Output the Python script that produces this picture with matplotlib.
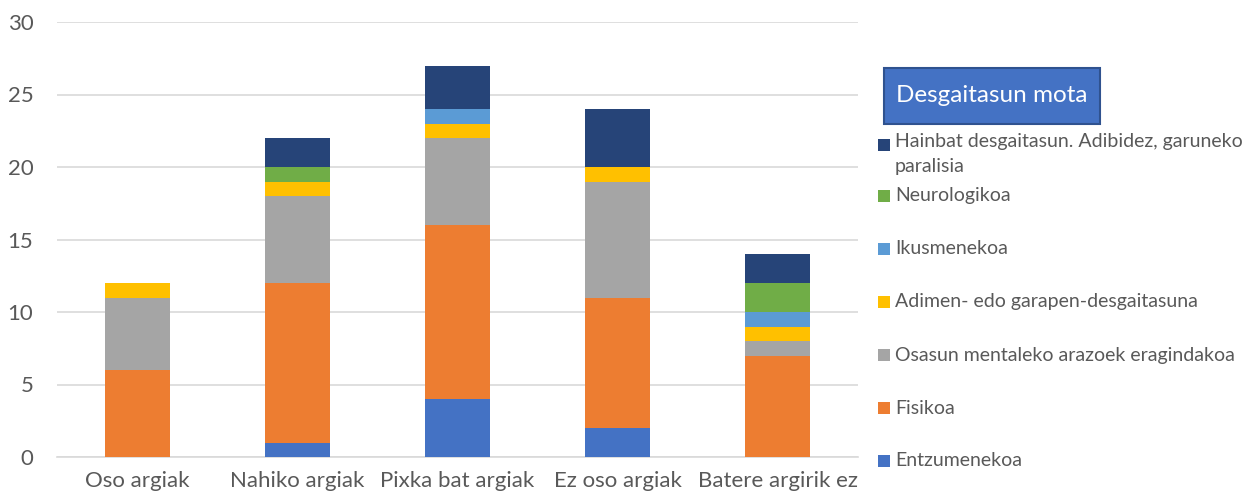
import matplotlib
matplotlib.use("Agg")
import matplotlib.pyplot as plt
from matplotlib.patches import Rectangle
import numpy as np

categories = ["Oso argiak", "Nahiko argiak", "Pixka bat argiak", "Ez oso argiak", "Batere argirik ez"]
series_names = ["Entzumenekoa", "Fisikoa", "Osasun mentaleko arazoek eragindakoa",
                "Adimen- edo garapen-desgaitasuna", "Ikusmenekoa", "Neurologikoa",
                "Hainbat desgaitasun. Adibidez, garuneko\nparalisia"]
entzumenekoa = [0, 1, 4, 2, 0]
fisikoa = [6, 11, 12, 9, 7]
osasun = [5, 6, 6, 8, 1]
adimen = [1, 1, 1, 1, 1]
ikusmenekoa = [0, 0, 1, 0, 1]
neurologikoa = [0, 1, 0, 0, 2]
hainbat = [0, 2, 3, 4, 2]
legend_title = "Desgaitasun mota"
yticks = [0, 5, 10, 15, 20, 25, 30]

colors = ["#4472C4", "#ED7D31", "#A5A5A5", "#FFC000", "#5B9BD5", "#70AD47", "#264478"]
series = [entzumenekoa, fisikoa, osasun, adimen, ikusmenekoa, neurologikoa, hainbat]

plt.rcParams['font.family'] = ['Lato', 'DejaVu Sans']
fig = plt.figure(figsize=(12.5, 5), dpi=100)
ax = fig.add_axes([0.0456, 0.086, 0.6408, 0.87])

x = np.arange(len(categories))
bottom = np.zeros(len(categories))
for vals, c in zip(series, colors):
    ax.bar(x, vals, 0.405, bottom=bottom, color=c, zorder=3)
    bottom += np.array(vals)

ax.set_xlim(-0.5, len(categories) - 0.5)
ax.set_ylim(0, 30)
ax.set_yticks(yticks)
ax.yaxis.grid(True, color="#d9d9d9", linewidth=1.2, zorder=0)
ax.set_xticks(x)
ax.set_xticklabels(categories)
for s in ["top", "right", "left"]:
    ax.spines[s].set_visible(False)
ax.spines["bottom"].set_color("#d9d9d9")
ax.spines["bottom"].set_linewidth(1.2)
ax.tick_params(axis="both", length=0, labelsize=16, colors="#595959")
ax.tick_params(axis="y", pad=17)
ax.tick_params(axis="x", pad=10)

# Legend title box
W, H = 1250, 500
def fx(px): return px / W
def fy(py): return 1 - py / H
box = Rectangle((fx(884), fy(124)), fx(1100) - fx(884), (124 - 68) / H,
                transform=fig.transFigure, facecolor="#4472C4", edgecolor="#2F528F",
                linewidth=1.5)
fig.add_artist(box)
fig.text(fx(992), fy(96), legend_title, ha="center", va="center", color="white", fontsize=17.5)

# Legend entries (reversed order)
ys = [145, 196, 249, 302, 355, 408, 461]
for yy, name, c in zip(ys, series_names[::-1], colors[::-1]):
    sq = 12
    fig.add_artist(Rectangle((fx(878), fy(yy + sq / 2)), sq / W, sq / H,
                             transform=fig.transFigure, facecolor=c, edgecolor="none"))
    if "\n" in name:
        fig.text(fx(895), fy(yy - 12), name, ha="left", va="top",
                 color="#595959", fontsize=14, linespacing=1.6)
    else:
        fig.text(fx(895), fy(yy), name, ha="left", va="center",
                 color="#595959", fontsize=14)

fig.savefig("out.png", dpi=100)
